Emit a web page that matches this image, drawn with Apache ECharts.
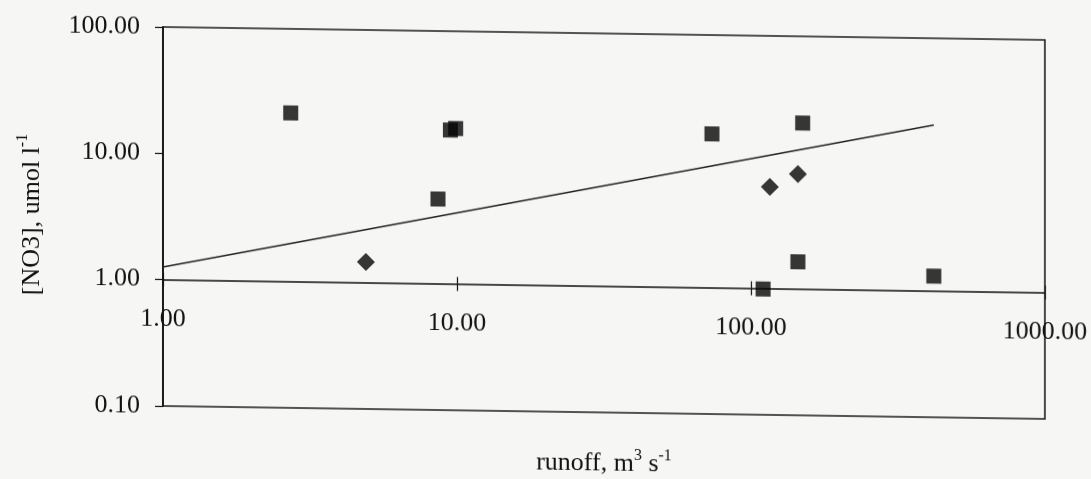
<!DOCTYPE html>
<html>
<head>
<meta charset="utf-8">
<script src="https://cdn.jsdelivr.net/npm/echarts@6/dist/echarts.min.js"></script>
<style>
  html, body { margin: 0; padding: 0; background: #f6f6f4; }
  #chart { width: 1091px; height: 479px; transform: skewY(0.84deg); transform-origin: 163px 0; }
</style>
</head>
<body>
<div id="chart"></div>
<script>
// Data (runoff in m3/s, [NO3] in umol/l)
const squareX = [2.72, 8.62, 9.5, 9.9, 73.7, 150, 144.5, 110, 419];
const squareY = [21.6, 4.68, 16.5, 17.0, 16.5, 20.6, 1.64, 0.99, 1.31];
const diamondX = [4.9, 116, 144.5];
const diamondY = [1.46, 6.37, 8.13];
const trendX = [1, 419];
const trendY = [1.26, 20.6];
const xTicks = [1, 10, 100, 1000];
const yTicks = [0.1, 1, 10, 100];

const FONT = 'Liberation Serif';
const INK = '#111111';
const chart = echarts.init(document.getElementById('chart'));
const gridH = 479 - 27 - 73;
const fmt = v => Number(v).toFixed(2);
const rich = {
  b: { fontFamily: FONT, fontSize: 26, color: INK, lineHeight: 30, verticalAlign: 'bottom' },
  s: { fontFamily: FONT, fontSize: 16, color: INK, lineHeight: 30, verticalAlign: 'top', padding: [0, 0, 9, 0] }
};

chart.setOption({
  backgroundColor: 'transparent',
  animation: false,
  grid: { left: 163, right: 46, top: 27, bottom: 73, show: true, borderColor: '#1e1e1e', borderWidth: 1.6, backgroundColor: 'transparent' },
  xAxis: [
    {
      type: 'log', logBase: 10, min: xTicks[0], max: xTicks[xTicks.length - 1],
      offset: -gridH / 3,
      axisLine: { show: true, lineStyle: { color: INK, width: 1.6 } },
      axisTick: { show: true, length: 7, lineStyle: { color: INK, width: 1.2 } },
      axisLabel: { margin: 27, fontFamily: FONT, fontSize: 26, color: INK, formatter: fmt },
      splitLine: { show: false },
      minorTick: { show: false },
      name: '{b|runoff, m}{s|3}{b| s}{s|-1}',
      nameLocation: 'middle', nameGap: 161,
      nameTextStyle: { rich: rich }
    },
    {
      type: 'log', logBase: 10, min: xTicks[0], max: xTicks[xTicks.length - 1],
      offset: -gridH / 3, position: 'bottom',
      axisLine: { show: false },
      axisTick: { show: true, inside: true, length: 7, lineStyle: { color: INK, width: 1.2 } },
      axisLabel: { show: false },
      splitLine: { show: false }
    }
  ],
  yAxis: {
    type: 'log', logBase: 10, min: yTicks[0], max: yTicks[yTicks.length - 1],
    axisLine: { show: true, lineStyle: { color: INK, width: 1.6 } },
    axisTick: { show: true, length: 8, lineStyle: { color: INK, width: 1.2 } },
    axisLabel: { margin: 23, fontFamily: FONT, fontSize: 26, color: INK, formatter: fmt },
    splitLine: { show: false },
    name: '{b|[NO3], umol l}{s|-1}',
    nameLocation: 'middle', nameGap: 118, nameRotate: 90,
    nameTextStyle: { rich: rich }
  },
  series: [
    {
      type: 'line', name: 'trend',
      data: trendX.map((x, i) => [x, trendY[i]]),
      showSymbol: false, symbol: 'none', silent: true,
      lineStyle: { color: '#222222', width: 1.5 }, z: 2
    },
    {
      type: 'scatter', name: 'squares',
      data: squareX.map((x, i) => [x, squareY[i]]),
      symbol: 'rect', symbolSize: 15,
      itemStyle: { color: '#050505' }, z: 3
    },
    {
      type: 'scatter', name: 'diamonds',
      data: diamondX.map((x, i) => [x, diamondY[i]]),
      symbol: 'diamond', symbolSize: [18, 18],
      itemStyle: { color: '#050505' }, z: 3
    }
  ]
});
</script>
</body>
</html>
